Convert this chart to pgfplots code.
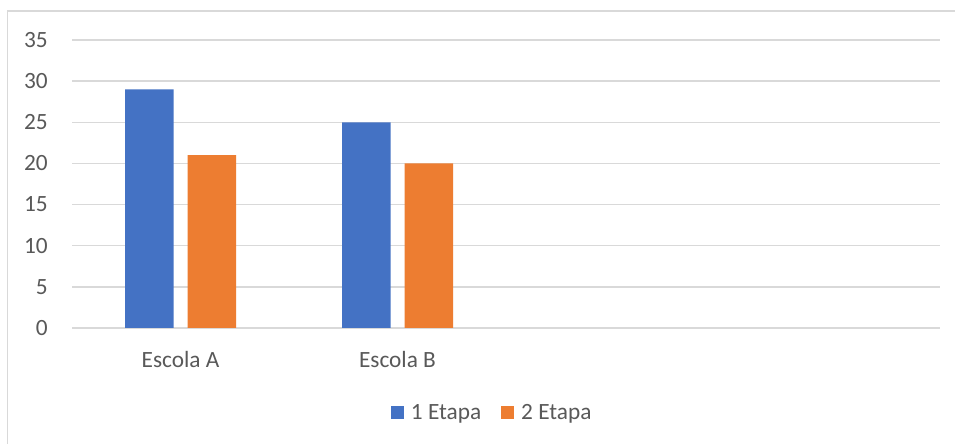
\documentclass[border=0pt]{standalone}
\usepackage{pgfplots}
\pgfplotsset{compat=1.18}
\usepackage{fontspec}
\setmainfont{Carlito}
\definecolor{xblue}{HTML}{4472C4}
\definecolor{xorange}{HTML}{ED7D31}
\definecolor{xgrid}{HTML}{D9D9D9}
\definecolor{xtext}{HTML}{595959}
\begin{document}
\begin{tikzpicture}
\path[use as bounding box] (0,0) rectangle (955pt,444pt);
\clip (0,0) rectangle (955pt,444pt);
\fill[white] (0,0) rectangle (955pt,444pt);
\draw[xgrid, line width=1.5pt] (7.5pt,-20pt) -- (7.5pt,433pt) -- (980pt,433pt);
\begin{axis}[
  at={(72pt,116pt)}, anchor=south west,
  scale only axis, width=868pt, height=288pt,
  ybar=14pt, bar width=48.5pt,
  xmin=-0.5, xmax=3.5, ymin=0, ymax=35,
  xtick={0,1}, xticklabels={Escola A, Escola B},
  ytick={0,5,...,35},
  major tick length=0pt,
  axis line style={draw=none},
  ymajorgrids, grid style={xgrid, line width=1.5pt},
  /pgf/number format/assume math mode=true,
  every tick label/.append style={font=\fontsize{23.3}{28}\selectfont, text=xtext},
  yticklabel style={inner sep=0pt, anchor=east, xshift=-24pt},
  xticklabel style={inner sep=0pt, anchor=north, yshift=-23pt},
  legend columns=2,
  legend style={at={(0.483,-0.293)}, anchor=center, draw=none, fill=none,
    font=\fontsize{23.3}{28}\selectfont, text=xtext,
    nodes={inner sep=0pt},
    /tikz/every odd column/.append style={column sep=7pt},
    /tikz/every even column/.append style={column sep=20pt}},
]
\addplot[fill=xblue, draw=none, legend image code/.code={\fill[xblue] (0pt,-6.5pt) rectangle (13pt,6.5pt);}] coordinates {(0,29) (1,25)};
\addplot[fill=xorange, draw=none, legend image code/.code={\fill[xorange] (0pt,-6.5pt) rectangle (13pt,6.5pt);}] coordinates {(0,21) (1,20)};
\legend{1 Etapa, 2 Etapa}
\end{axis}
\end{tikzpicture}
\end{document}
